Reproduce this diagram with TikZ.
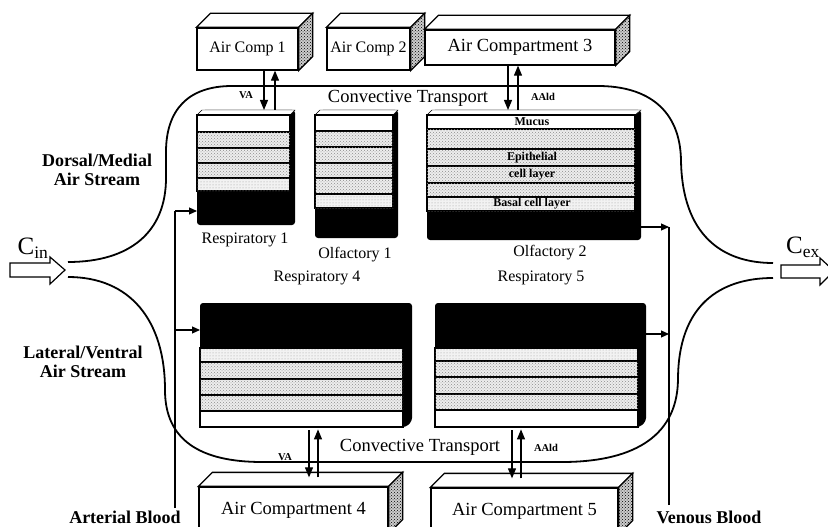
\documentclass[tikz,border=0pt]{standalone}
\usepackage{fontspec}
\setmainfont{Liberation Serif}
\usetikzlibrary{arrows.meta,patterns}

\tikzset{
  aircomp/.style={draw, line width=1.3pt, fill=white, inner sep=0pt, font=\fontsize{18.5}{20}\selectfont},
  smallcomp/.style={aircomp, font=\fontsize{16}{18}\selectfont},
  stackframe/.style={inner sep=0pt, anchor=north west},
  layerline/.style={draw, line width=1.4pt},
  mucus/.style={layerline, fill=white},
  epi/.style={layerline, fill=black!7, postaction={pattern=crosshatch dots, pattern color=black!45}},
  basal/.style={layerline, fill=black!5, postaction={pattern=dots, pattern color=black!40}},
  stream/.style={line width=1.8pt},
  flow/.style={line width=1.1pt, -{Triangle[length=10pt,width=8pt]}},
  feed/.style={line width=1.1pt, -{Triangle[length=8pt,width=7pt]}},
  blood/.style={line width=1.1pt},
  tissuelabel/.style={font=\fontsize{16}{18}\selectfont},
  sidelabel/.style={font=\bfseries\fontsize{18}{19}\selectfont, align=center},
  ratelabel/.style={font=\bfseries\fontsize{10.5}{12}\selectfont},
  layerlabel/.style={font=\bfseries\fontsize{12}{14}\selectfont},
  conclabel/.style={font=\fontsize{25}{27}\selectfont},
}

\newcommand\boxfaces[2]{%
  \draw[line width=1.3pt, fill=white] (#1.north west) -- ++(#2,-#2) -- ([shift={(#2,-#2)}]#1.north east) -- (#1.north east) -- cycle;
  \draw[line width=1.3pt, fill=black!20, postaction={pattern=crosshatch dots}] (#1.north east) -- ++(#2,-#2) -- ([shift={(#2,-#2)}]#1.south east) -- (#1.south east) -- cycle;
}

\begin{document}
\begin{tikzpicture}[x=1pt, y=-1pt]
\useasboundingbox (0,0) rectangle (828,527);
\clip (0,0) rectangle (828,527);

% air compartments
\node[smallcomp, minimum width=101, minimum height=42] (ac1) at (247.5,49) {Air Comp 1};
\node[smallcomp, minimum width=83, minimum height=42] (ac2) at (368.5,49) {Air Comp 2};
\node[aircomp, minimum width=190, minimum height=35] (ac3) at (520,47.5) {Air Compartment 3};
\node[aircomp, minimum width=189, minimum height=46] (ac4) at (293.5,510) {Air Compartment 4};
\node[aircomp, minimum width=187, minimum height=46] (ac5) at (524.5,511) {Air Compartment 5};
\foreach \n in {ac1,ac2,ac3,ac4,ac5} {\boxfaces{\n}{14}}

% tissue stacks
\node[stackframe, minimum width=98, minimum height=115] (resp1) at (197,110) {};
\node[stackframe, minimum width=83, minimum height=128] (olf1) at (315,110) {};
\node[stackframe, minimum width=214, minimum height=130] (olf2) at (427,110) {};
\node[stackframe, minimum width=212, minimum height=124] (resp4) at (200,303) {};
\node[stackframe, minimum width=211, minimum height=124] (resp5) at (435,303) {};

\fill[rounded corners=3pt] (197,115) -- (202,110) -- (295,110) -- (295,225) -- (197,225) -- cycle;
\draw[thin, fill=white] (197,115) -- (202,110) -- (295,110) -- (290,115) -- cycle;
\foreach \ya/\yb/\ly in {115/132/mucus, 132/148/epi, 148/163/epi, 163/178/epi, 178/191/basal}
  \path[\ly] (197,\ya) rectangle (290,\yb);

\fill[rounded corners=3pt] (315,115) -- (320,110) -- (398,110) -- (398,238) -- (315,238) -- cycle;
\draw[thin, fill=white] (315,115) -- (320,110) -- (398,110) -- (393,115) -- cycle;
\foreach \ya/\yb/\ly in {115/131/mucus, 131/147/epi, 147/163/epi, 163/178/epi, 178/194/epi, 194/208/basal}
  \path[\ly] (315,\ya) rectangle (393,\yb);

\fill[rounded corners=3pt] (427,115) -- (432,110) -- (641,110) -- (641,240) -- (427,240) -- cycle;
\draw[thin, fill=white] (427,115) -- (432,110) -- (641,110) -- (635,115) -- cycle;
\foreach \ya/\yb/\ly in {115/129/mucus, 129/149/epi, 149/166/epi, 166/183/epi, 183/197/epi, 197/211/basal}
  \path[\ly] (427,\ya) rectangle (635,\yb);
\node[layerlabel] (mucus) at (532,122) {Mucus};
\node[layerlabel] (epi) at (532,157.5) {Epithelial};
\node[layerlabel] (cell) at (532,174.5) {cell layer};
\node[layerlabel] (basal) at (532,204) {Basal cell layer};

\fill[rounded corners=3pt] (200,303) -- (412,303) -- (412,421) -- (406,427) -- (200,427) -- cycle;
\foreach \ya/\yb/\ly in {348/362/basal, 362/379/epi, 379/395/epi, 395/411/epi, 411/427/mucus}
  \path[\ly] (200,\ya) rectangle (403,\yb);

\fill[rounded corners=3pt] (435,303) -- (646,303) -- (646,421) -- (640,427) -- (435,427) -- cycle;
\foreach \ya/\yb/\ly in {348/361/basal, 361/377/epi, 377/394/epi, 394/410/epi, 410/427/mucus}
  \path[\ly] (435,\ya) rectangle (638,\yb);

\node[tissuelabel] (lr1) at (245,240) {Respiratory 1};
\node[tissuelabel] (lo1) at (355,255) {Olfactory 1};
\node[tissuelabel] (lo2) at (550,253) {Olfactory 2};
\node[tissuelabel] (lr4) at (317,278) {Respiratory 4};
\node[tissuelabel] (lr5) at (541,278) {Respiratory 5};

% air streams
\draw[stream] (68,262) .. controls (130,262) and (166,232) .. (166,178) -- (166,152)
  .. controls (166,110) and (188,86) .. (232,86) -- (598,86)
  .. controls (648,86) and (680,110) .. (681,160)
  .. controls (682,235) and (722,263) .. (773,263);
\draw[stream] (68,277) .. controls (130,277) and (165,320) .. (165,390)
  .. controls (165,440) and (200,462) .. (262,462) -- (562,462)
  .. controls (628,462) and (677,440) .. (678,380)
  .. controls (678,305) and (720,278) .. (773,278);
\node[aircomp, draw=none, fill=none] (ct1) at (408,98) {Convective Transport};
\node[aircomp, draw=none, fill=none] (ct2) at (420,447) {Convective Transport};

\node[sidelabel] (dorsal) at (97,170) {Dorsal/Medial\\Air Stream};
\node[sidelabel] (lateral) at (83,362) {Lateral/Ventral\\Air Stream};

% inlet and outlet
\draw[line width=1.2pt, fill=white] (10,263) -- (50,263) -- (50,257) -- (65,270) -- (50,284) -- (50,277) -- (10,277) -- cycle;
\draw[line width=1.2pt, fill=white] (781,265) -- (820,265) -- (820,258) -- (834,271) -- (820,285) -- (820,278) -- (781,278) -- cycle;
\node[conclabel] (cin) at (33,248) {C\textsubscript{in}};
\node[conclabel] (cex) at (803,247) {C\textsubscript{ex}};

% exchange between air compartments and tissue
\foreach \a/\t/\dn/\up in {ac1/resp1/16.5/27.5, ac3/olf2/-12/-2} {
  \coordinate (dn) at ([xshift=\dn pt]\a.south);
  \coordinate (up) at ([xshift=\up pt]\a.south);
  \draw[flow] (dn) -- (dn |- \t.north);
  \draw[flow] (up |- \t.north) -- (up);
}
\foreach \a/\t/\dn/\up in {ac4/resp4/15.5/24.5, ac5/resp5/-12.5/-3.5} {
  \coordinate (dn) at ([xshift=\dn pt, yshift=9pt]\a.north);
  \coordinate (up) at ([xshift=\up pt, yshift=9pt]\a.north);
  \draw[flow] ([yshift=-3pt]dn |- \t.south) -- (dn);
  \draw[flow] (up) -- ([yshift=-2pt]up |- \t.south);
}
\node[ratelabel] (va1) at (246,95) {VA};
\node[ratelabel] (aald1) at (543,97) {AAld};
\node[ratelabel] (va4) at (285,457) {VA};
\node[ratelabel] (aald5) at (546,448) {AAld};

% blood
\node[sidelabel] (art) at (125,517) {Arterial Blood};
\node[sidelabel] (ven) at (709,517) {Venous Blood};
\coordinate (artbot) at (175,508);
\coordinate (art1) at (175,211);
\coordinate (art4) at (175,330);
\draw[blood] (artbot) -- (art1);
\draw[feed] (art1) -- (art1 -| resp1.west);
\draw[feed] (art4) -- (art4 -| resp4.west);
\coordinate (venbot) at (669,505);
\coordinate (ven2) at (669,227);
\coordinate (ven5) at (669,334);
\draw[blood] (venbot) -- (ven2);
\draw[feed] (ven2 -| olf2.east) -- (ven2);
\draw[feed] (ven5 -| resp5.east) -- (ven5);
\end{tikzpicture}
\end{document}
